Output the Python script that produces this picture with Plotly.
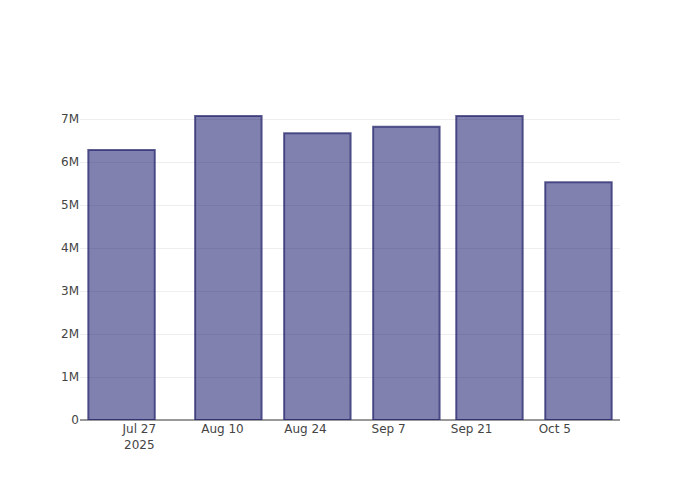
import plotly.graph_objects as go

dates = ["2025-07-24", "2025-08-11", "2025-08-26", "2025-09-10", "2025-09-24", "2025-10-09"]
values = [6280000, 7070000, 6670000, 6820000, 7070000, 5530000]

fig = go.Figure(
    go.Bar(
        x=dates,
        y=values,
        marker=dict(
            color="rgba(25,25,112,0.55)",
            line=dict(color="rgba(40,40,110,0.75)", width=2),
        ),
    )
)
fig.update_layout(
    template="plotly_white",
    width=692,
    height=492,
    margin=dict(l=72, r=80, t=92, b=80),
    font=dict(color="#444", family="DejaVu Sans"),
)
fig.update_xaxes(showline=False, showgrid=False)
fig.update_yaxes(showgrid=True, gridcolor="#eee", zeroline=True, zerolinecolor="#999", zerolinewidth=1.5)
fig.write_html("out.html")
